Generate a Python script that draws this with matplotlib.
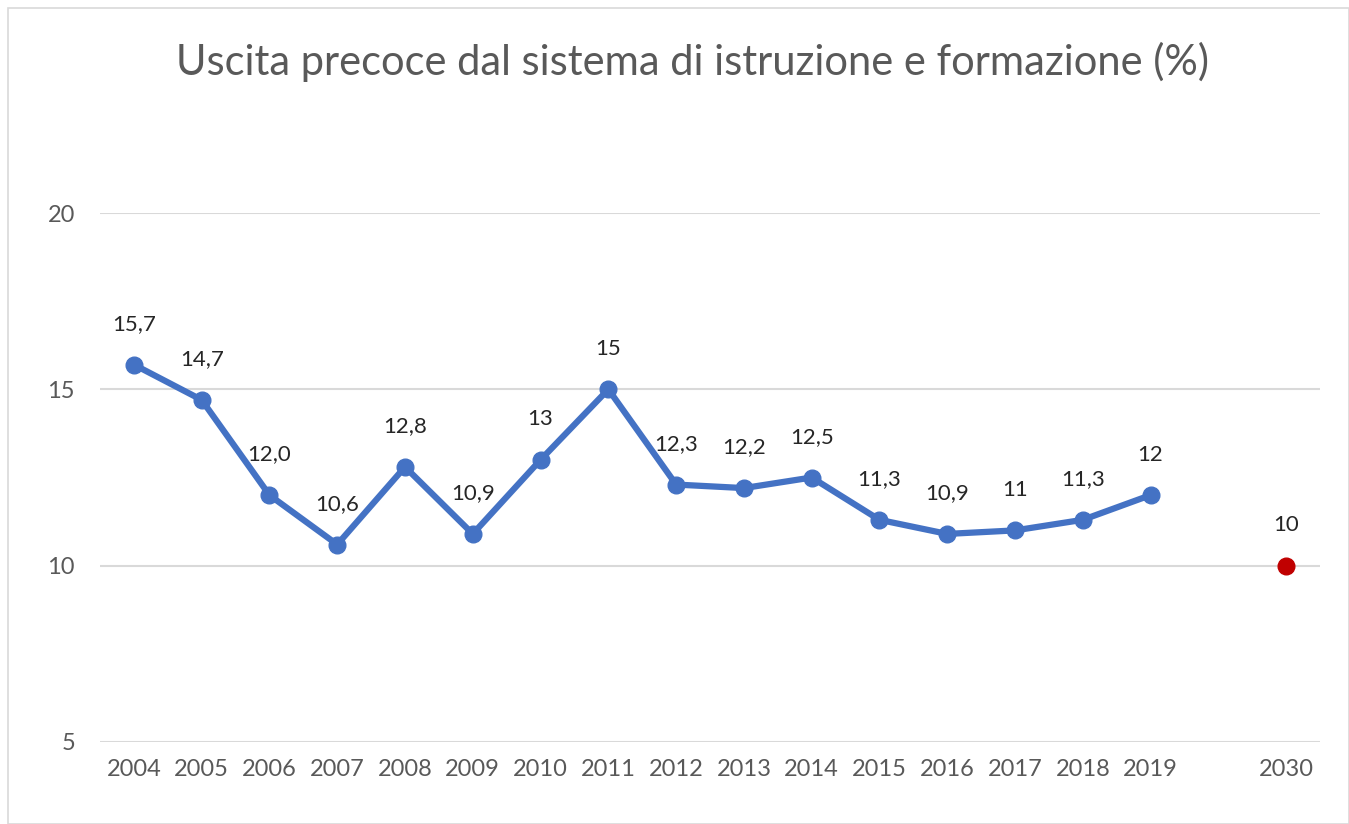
import matplotlib.pyplot as plt
from matplotlib.patches import Rectangle

# values
years = ["2004", "2005", "2006", "2007", "2008", "2009", "2010", "2011",
         "2012", "2013", "2014", "2015", "2016", "2017", "2018", "2019"]
values = [15.7, 14.7, 12.0, 10.6, 12.8, 10.9, 13, 15,
          12.3, 12.2, 12.5, 11.3, 10.9, 11, 11.3, 12]
value_labels = ["15,7", "14,7", "12,0", "10,6", "12,8", "10,9", "13", "15",
                "12,3", "12,2", "12,5", "11,3", "10,9", "11", "11,3", "12"]
target_year = "2030"
target_value = 10
target_label = "10"

plt.rcParams['font.family'] = ['Lato', 'DejaVu Sans']
text_color = "#595959"

fig = plt.figure(figsize=(13.49, 8.24), dpi=100)
ax = fig.add_axes([100 / 1349, 1 - 742 / 824, 1220 / 1349, (742 - 213) / 824])

xs = list(range(len(years)))
target_x = len(years) + 1
ax.plot(xs, values, color="#4472C4", linewidth=4.5, marker="o", markersize=12,
        solid_capstyle="round", zorder=3)
ax.plot([target_x], [target_value], color="#C00000", marker="o",
        markersize=12, linestyle="none", zorder=3)

for x, v, lab in zip(xs, values, value_labels):
    ax.annotate(lab, (x, v), xytext=(0, 22), textcoords="offset points",
                ha="center", va="bottom", fontsize=16, color="#262626")
ax.annotate(target_label, (target_x, target_value), xytext=(0, 22),
            textcoords="offset points", ha="center", va="bottom",
            fontsize=16, color="#262626")

ax.set_xlim(-0.5, target_x + 0.5)
ax.set_ylim(5, 20)
ax.set_yticks([5, 10, 15, 20])
ax.set_xticks(xs + [target_x])
ax.set_xticklabels(years + [target_year])
ax.tick_params(axis="both", length=0, labelsize=17, labelcolor=text_color)
ax.tick_params(axis="y", pad=18)
ax.tick_params(axis="x", pad=12)
ax.grid(axis="y", color="#D9D9D9", linewidth=1.5)
ax.set_axisbelow(True)
for s in ax.spines.values():
    s.set_visible(False)

fig.text(692 / 1349, 1 - 62 / 824, "Uscita precoce dal sistema di istruzione e formazione (%)",
         ha="center", va="center", fontsize=30, color=text_color)

fig.patches.append(Rectangle((8 / 1349, 0), 1 - 8 / 1349, 1 - 8 / 824,
                             transform=fig.transFigure, fill=False,
                             edgecolor="#D9D9D9", linewidth=1.2))

fig.savefig("out.png", dpi=100)
